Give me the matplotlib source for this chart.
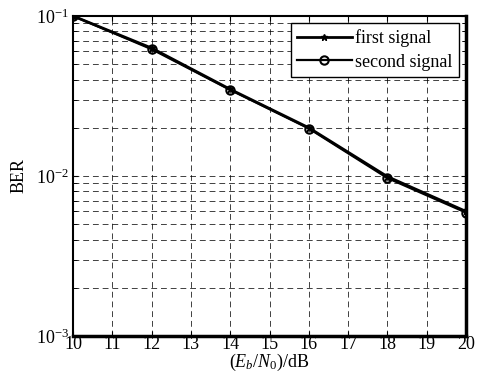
import numpy as np
import matplotlib.pyplot as plt

# Data
snr = [10, 12, 14, 16, 18, 20]
ber_first = [0.1, 0.063, 0.0348, 0.0200, 0.0099, 0.0060]
ber_second = [0.1, 0.062, 0.0345, 0.0198, 0.0097, 0.0059]
xticks = list(range(10, 21))

plt.rcParams['font.family'] = ['Liberation Serif', 'DejaVu Serif']
plt.rcParams['mathtext.fontset'] = 'custom'
plt.rcParams['mathtext.rm'] = 'Liberation Serif'
plt.rcParams['mathtext.it'] = 'Liberation Serif:italic'

fig = plt.figure(figsize=(4.87, 3.72), dpi=100)
ax = fig.add_axes([0.150, 0.097, 0.807, 0.860])

ax.semilogy(snr, ber_first, color='black', lw=2, marker='*', ms=5, label='first signal')
ax.semilogy(snr, ber_second, color='black', lw=1.6, marker='o', ms=6, mfc='none', mew=1.5,
            label='second signal')

ax.set_xlim(10, 20)
ax.set_ylim(1e-3, 1e-1)
ax.set_xticks(xticks)
ax.set_xticklabels([str(t) for t in xticks])
ax.grid(True, which='major', ls=(0, (6, 4)), color='black', lw=0.7, alpha=0.75)
ax.grid(True, which='minor', axis='y', ls=(0, (6, 4)), color='black', lw=0.7, alpha=0.75)
ax.tick_params(which='both', direction='in', top=True, right=True, labelsize=13)
ax.tick_params(axis='x', pad=0)
ax.tick_params(axis='y', pad=3)
ax.tick_params(which='minor', length=3)
for s in ax.spines.values():
    s.set_linewidth(1.5)
ax.spines['right'].set_linewidth(2.5)
ax.spines['bottom'].set_linewidth(2.5)

ax.set_xlabel('$(E_b/N_0)$/dB', fontsize=13, labelpad=-1)
ax.set_ylabel('BER', fontsize=13, labelpad=6)

leg = ax.legend(loc='upper right', fontsize=13, fancybox=False, edgecolor='black',
                framealpha=1, handlelength=3.0, handletextpad=0.2, borderpad=0.35,
                labelspacing=0.35, borderaxespad=0.4)
leg.get_frame().set_linewidth(1.0)

fig.savefig('out.png', dpi=100)
